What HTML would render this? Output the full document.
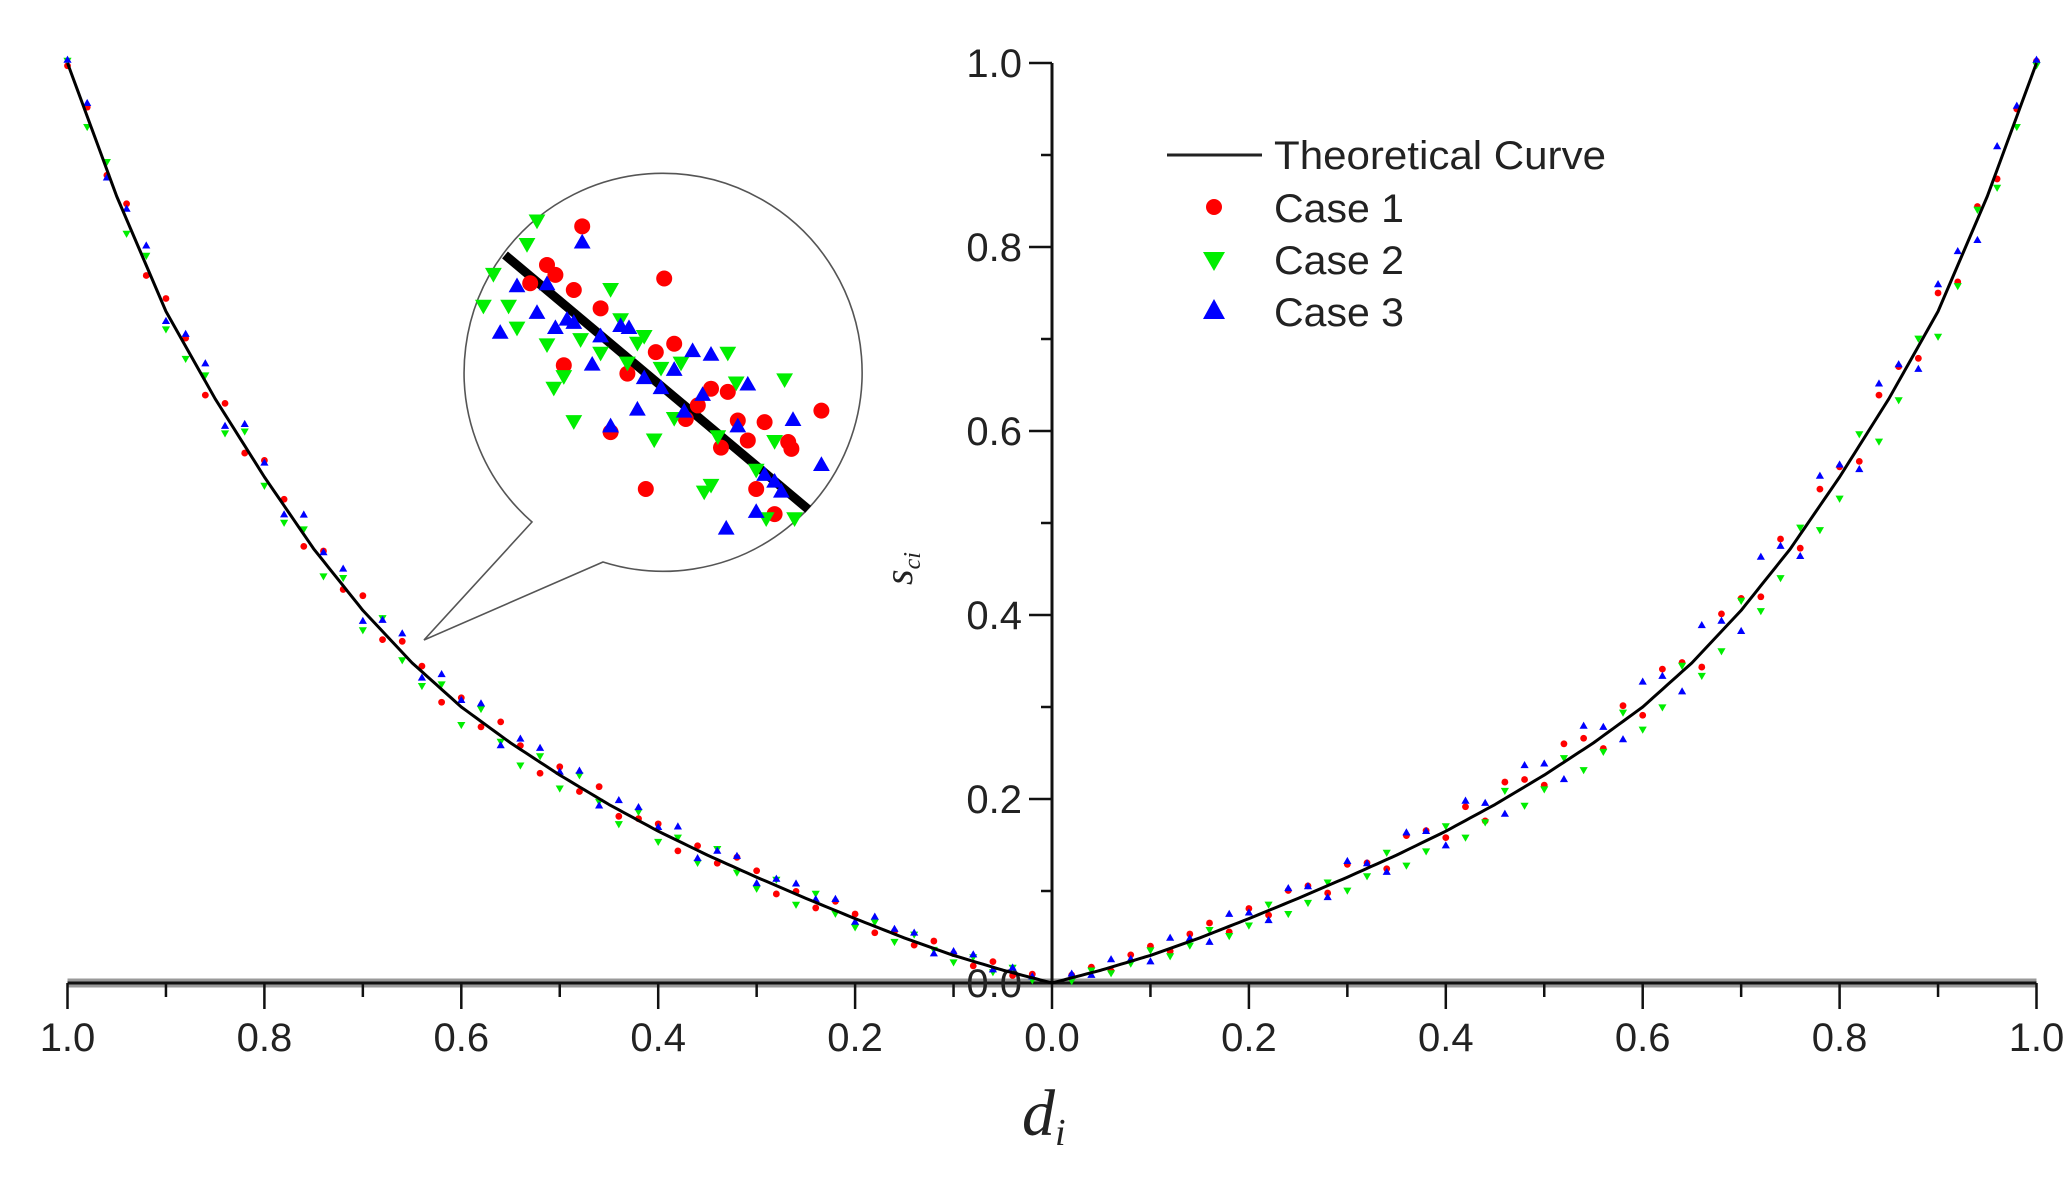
<!DOCTYPE html>
<html><head><meta charset="utf-8"><style>
html,body{margin:0;padding:0;background:#fff;}
svg{display:block;}
text{font-family:"Liberation Sans",Arial,sans-serif;fill:#222;}
</style></head><body>
<svg id="chart" width="2070" height="1191" viewBox="0 0 2070 1191">
<g id="inset"></g>
<g id="axes"></g>
<g id="marks"></g>
<g id="legend">
  <line x1="1167" y1="155" x2="1262" y2="155" stroke="#222" stroke-width="3"/>
  <text x="1274" y="169" font-size="40" textLength="332" lengthAdjust="spacingAndGlyphs">Theoretical Curve</text>
  <circle cx="1214" cy="207" r="8" fill="#ff0000"/>
  <text x="1274" y="222" font-size="40" textLength="130" lengthAdjust="spacingAndGlyphs">Case 1</text>
  <polygon points="1203,252 1225,252 1214,271" fill="#00ee00"/>
  <text x="1274" y="274" font-size="40" textLength="130" lengthAdjust="spacingAndGlyphs">Case 2</text>
  <polygon points="1203,319 1225,319 1214,299" fill="#0000ff"/>
  <text x="1274" y="326" font-size="40" textLength="130" lengthAdjust="spacingAndGlyphs">Case 3</text>
</g>
<text x="1022" y="1135" font-size="66" font-style="italic" style="font-family:'Liberation Serif',serif">d<tspan font-size="38" dy="10">i</tspan></text>
<text transform="translate(912,585) rotate(-90)" font-size="40" font-style="italic" style="font-family:'Liberation Serif',serif">s<tspan font-size="24" dy="8">ci</tspan></text>
</svg>
<script>
// ---- data ----
const curveD = [0,0.05,0.1,0.15,0.2,0.25,0.3,0.35,0.4,0.45,0.5,0.55,0.6,0.65,0.7,0.75,0.8,0.85,0.9,0.95,1.0];
const curveS = [0,0.014,0.03,0.049,0.07,0.092,0.115,0.139,0.165,0.194,0.226,0.261,0.3,0.348,0.405,0.472,0.55,0.635,0.73,0.855,1.0];
const xTickValues = [-1,-0.8,-0.6,-0.4,-0.2,0,0.2,0.4,0.6,0.8,1];
const xTickLabels = ["1.0","0.8","0.6","0.4","0.2","0.0","0.2","0.4","0.6","0.8","1.0"];
const yTickValues = [0,0.2,0.4,0.6,0.8,1.0];
const yTickLabels = ["0.0","0.2","0.4","0.6","0.8","1.0"];
const sampleD = [0.02,0.04,0.06,0.08,0.1,0.12,0.14,0.16,0.18,0.2,0.22,0.24,0.26,0.28,0.3,0.32,0.34,0.36,0.38,0.4,0.42,0.44,0.46,0.48,0.5,0.52,0.54,0.56,0.58,0.6,0.62,0.64,0.66,0.68,0.7,0.72,0.74,0.76,0.78,0.8,0.82,0.84,0.86,0.88,0.9,0.92,0.94,0.96,0.98,1.0];
const case1Left = [.004,-.003,.006,-.005,.002,.008,-.004,.003,-.007,.005,.01,-.006,.003,-.009,.007,.012,-.004,.005,-.011,.008,.002,-.007,.013,-.005,.009,-.012,.004,.015,-.006,.01,-.014,.006,.012,-.009,.016,-.004,.011,-.013,.007,.018,-.008,.012,-.015,.009,.014,-.011,.017,-.006,.01,-.003];
const case2Left = [-.003,.005,-.006,.004,-.008,-.002,.007,-.009,.004,-.01,-.004,.009,-.012,.006,-.013,-.005,.011,-.014,.003,-.012,.009,-.016,-.004,.012,-.015,.006,-.018,-.007,.013,-.02,.005,-.016,-.009,.014,-.022,.008,-.017,.005,-.019,-.01,.015,-.021,.006,-.014,-.02,.01,-.016,.008,-.012,.002];
const case3Left = [.002,.006,-.002,.008,.005,-.005,.01,.006,.011,-.003,.013,.004,.012,.008,-.006,.014,.01,-.008,.016,.005,.015,.011,-.007,.018,.004,.016,.012,-.01,.02,.008,.017,-.006,.021,.013,-.011,.019,.01,.022,-.009,.016,.024,-.012,.02,.014,-.01,.022,.012,-.008,.015,.004];
const case1Right = [.003,.006,-.004,.007,.01,-.003,.008,.012,-.006,.011,-.005,.013,.009,-.008,.014,.006,-.01,.016,.011,-.007,.015,-.012,.018,.008,-.011,.02,.012,-.014,.017,-.009,.022,.01,-.016,.019,.013,-.012,.024,-.015,.018,.011,-.017,.021,.016,-.013,.02,-.018,.014,-.01,.008,.002];
const case2Right = [-.004,.002,-.007,-.003,.005,-.009,-.005,.004,-.011,-.008,.006,-.013,-.01,.003,-.015,-.009,.007,-.017,-.012,.005,-.019,-.014,.008,-.021,-.016,.004,-.023,-.018,.009,-.025,-.02,.006,-.026,-.022,.01,-.028,-.019,.007,-.027,-.024,.012,-.03,-.021,.008,-.028,-.023,.01,-.02,-.012,-.003];
const case3Right = [.005,-.002,.009,.003,-.006,.012,.004,-.008,.014,.007,-.01,.016,.009,-.012,.018,.006,-.013,.02,.011,-.015,.022,.008,-.016,.024,.013,-.018,.026,.01,-.019,.028,.015,-.021,.03,.012,-.022,.032,.017,-.023,.033,.014,-.025,.034,.019,-.024,.03,.016,-.022,.026,.012,.004];
// inset (zoomed view) data, 0-100 inset units
const insetLine = [[10.0,20.6],[85.8,84.5]];
const insetCase1X = [29.3,20.5,22.6,16.3,27.2,49.8,33.9,47.7,52.3,24.7,40.6,61.5,65.7,58.2,36.4,68.2,74.9,70.7,80.8,81.6,64.0,89.1,45.2,72.8,77.4,55.2];
const insetCase1Y = [13.4,23.1,25.6,27.7,29.4,26.5,34.0,45.0,42.9,48.3,50.4,54.2,55.0,58.4,65.1,62.2,62.6,67.2,67.6,69.3,69.0,59.7,79.4,79.4,85.7,61.8];
const insetCase2X = [18.0,15.5,7.1,4.6,10.9,13.0,36.4,20.5,28.9,33.9,38.9,44.8,43.1,40.6,49.0,54.0,65.7,24.7,22.2,27.2,52.3,47.3,67.8,79.9,77.4,63.2,59.8,61.5,72.8,75.3,82.4];
const insetCase2Y = [12.2,18.1,25.6,33.6,33.6,39.1,29.4,43.3,42.0,45.4,37.0,41.2,42.9,47.9,49.2,47.9,45.4,51.3,54.2,62.6,61.8,67.2,52.9,52.1,67.6,66.4,80.3,78.6,74.8,87.0,87.0];
const insetCase3X = [29.3,13.0,20.5,18.0,8.8,22.6,25.5,27.2,31.8,33.9,38.9,41.0,52.3,56.9,61.5,44.8,49.0,43.1,36.4,54.8,59.4,70.7,68.2,82.0,74.9,79.1,89.1,72.8,65.3,77.4];
const insetCase3Y = [17.2,28.2,27.7,34.9,39.9,38.7,36.6,37.4,47.9,40.8,38.2,38.7,49.2,44.5,45.4,51.3,53.8,59.2,63.4,59.7,55.5,52.9,63.4,61.8,75.6,79.8,73.1,84.9,89.1,77.3];

// ---- scales ----
const X0 = 1052, XS = 984.5, Y0 = 983, YS = 920;
function xScale(v){ return X0 + v*XS; }
function yScale(s){ return Y0 - s*YS; }
function curve(d){
  for(let i=1;i<curveD.length;i++){
    if(d<=curveD[i]){ const t=(d-curveD[i-1])/(curveD[i]-curveD[i-1]); return curveS[i-1]+t*(curveS[i]-curveS[i-1]); }
  }
  return curveS[curveS.length-1];
}
const IX0=465, IY0=173, IW=400, IH=398;
function ix(u){ return IX0 + u/100*IW; }
function iy(v){ return IY0 + v/100*IH; }

const NS="http://www.w3.org/2000/svg";
function mk(tag, parent, attrs){ const e=document.createElementNS(NS,tag); for(const k in attrs) e.setAttribute(k,attrs[k]); parent.appendChild(e); return e; }

// ---- axes ----
const axes=document.getElementById('axes');
let e=mk('line',axes,{x1:xScale(-1),y1:Y0,x2:xScale(1),y2:Y0,stroke:'#999','stroke-width':9});


e=mk('line',axes,{x1:xScale(-1),y1:Y0,x2:xScale(1),y2:Y0,stroke:'#111','stroke-width':3});


e=mk('line',axes,{x1:X0,y1:yScale(1),x2:X0,y2:Y0,stroke:'#111','stroke-width':3});


for(let i=-10;i<=10;i++){
  const v=i/10, maj=(i%2===0);
  e=mk('line',axes,{x1:xScale(v),y1:Y0,x2:xScale(v),y2:Y0+(maj?26:14),stroke:'#111','stroke-width':2.5});
  
  
}
xTickValues.forEach((v,i)=>{
  e=mk('text',axes,{x:xScale(v),y:Y0+68,'font-size':40,'text-anchor':'middle'});
  e.textContent=xTickLabels[i];
  
  
});
for(let i=0;i<=10;i++){
  const v=i/10, maj=(i%2===0);
  e=mk('line',axes,{x1:X0-(maj?23:11),y1:yScale(v),x2:X0,y2:yScale(v),stroke:'#111','stroke-width':2.5});
  
  
}
yTickValues.forEach((v,i)=>{
  e=mk('text',axes,{x:X0-30,y:yScale(v)+14,'font-size':40,'text-anchor':'end'});
  e.textContent=yTickLabels[i];
  
  
});

// ---- marks ----
const marks=document.getElementById('marks');
function drawMarker(parent,type,x,y,r,name){
  let m;
  if(type==='c') m=mk('circle',parent,{cx:x,cy:y,r:r,fill:'#ff0000'});
  else if(type==='d') m=mk('polygon',parent,{points:`${x-r*1.2},${y-r} ${x+r*1.2},${y-r} ${x},${y+r*1.1}`,fill:'#00ee00'});
  else m=mk('polygon',parent,{points:`${x-r*1.2},${y+r} ${x+r*1.2},${y+r} ${x},${y-r*1.1}`,fill:'#0000ff'});
  
  
}
const series=[['c',case1Left,case1Right,'case1-point'],['d',case2Left,case2Right,'case2-point'],['u',case3Left,case3Right,'case3-point']];
series.forEach(([t,L,R,name])=>{
  sampleD.forEach((d,i)=>{
    drawMarker(marks,t,xScale(-d),yScale(curve(d)+L[i]),3.4,name);
    drawMarker(marks,t,xScale(d),yScale(curve(d)+R[i]),3.4,name);
  });
});
let pts=[];
for(let k=-200;k<=200;k++){ const d=k/200; pts.push(xScale(d)+','+yScale(curve(Math.abs(d)))); }
e=mk('polyline',marks,{points:pts.join(' '),fill:'none',stroke:'#000','stroke-width':3,'stroke-linejoin':'round'});



// ---- inset ----
const inset=document.getElementById('inset');
const r=199;
e=mk('path',inset,{d:`M424,640 L532,522 A${r},${r} 0 1 1 603,562 Z`,fill:'#fff',stroke:'#555','stroke-width':1.6});


e=mk('line',inset,{x1:ix(insetLine[0][0]),y1:iy(insetLine[0][1]),x2:ix(insetLine[1][0]),y2:iy(insetLine[1][1]),stroke:'#000','stroke-width':9});


insetCase1X.forEach((u,i)=>drawMarker(inset,'c',ix(u),iy(insetCase1Y[i]),8,'inset-case1-point'));
insetCase2X.forEach((u,i)=>drawMarker(inset,'d',ix(u),iy(insetCase2Y[i]),7,'inset-case2-point'));
insetCase3X.forEach((u,i)=>drawMarker(inset,'u',ix(u),iy(insetCase3Y[i]),7,'inset-case3-point'));
</script>
</body></html>
